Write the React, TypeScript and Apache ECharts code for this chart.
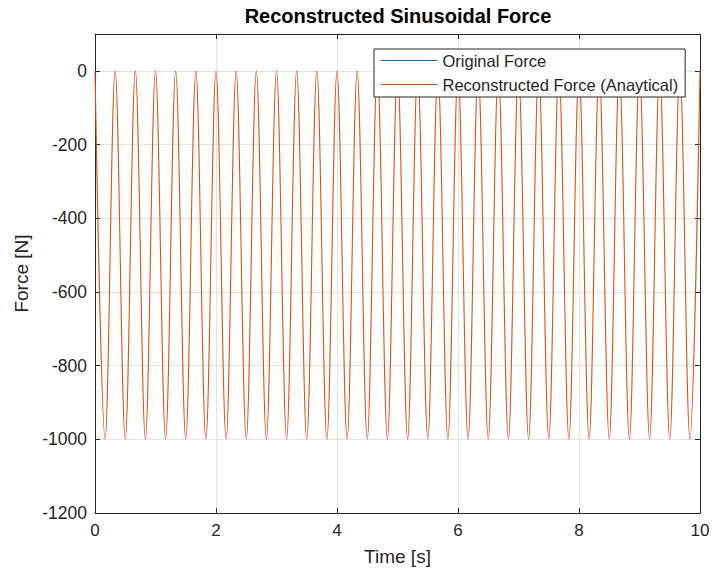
import React, { useEffect, useRef } from "react";
import * as echarts from "echarts";

// Time stamps of the read-off extremes (crests at 0 N, troughs at -1000 N)
const forceTime = [
  0, 0.167, 0.333, 0.5, 0.667, 0.833, 1, 1.167, 1.333, 1.5, 1.667, 1.833,
  2, 2.167, 2.333, 2.5, 2.667, 2.833, 3, 3.167, 3.333, 3.5, 3.667, 3.833,
  4, 4.167, 4.333, 4.5, 4.667, 4.833, 5, 5.167, 5.333, 5.5, 5.667, 5.833,
  6, 6.167, 6.333, 6.5, 6.667, 6.833, 7, 7.167, 7.333, 7.5, 7.667, 7.833,
  8, 8.167, 8.333, 8.5, 8.667, 8.833, 9, 9.167, 9.333, 9.5, 9.667, 9.833, 10,
];
const originalForce = [
  0, -1000, 0, -1000, 0, -1000, 0, -1000, 0, -1000, 0, -1000,
  0, -1000, 0, -1000, 0, -1000, 0, -1000, 0, -1000, 0, -1000,
  0, -1000, 0, -1000, 0, -1000, 0, -1000, 0, -1000, 0, -1000,
  0, -1000, 0, -1000, 0, -1000, 0, -1000, 0, -1000, 0, -1000,
  0, -1000, 0, -1000, 0, -1000, 0, -1000, 0, -1000, 0, -1000, 0,
];
const reconstructedForce = [
  0, -1000, 0, -1000, 0, -1000, 0, -1000, 0, -1000, 0, -1000,
  0, -1000, 0, -1000, 0, -1000, 0, -1000, 0, -1000, 0, -1000,
  0, -1000, 0, -1000, 0, -1000, 0, -1000, 0, -1000, 0, -1000,
  0, -1000, 0, -1000, 0, -1000, 0, -1000, 0, -1000, 0, -1000,
  0, -1000, 0, -1000, 0, -1000, 0, -1000, 0, -1000, 0, -1000, 0,
];
const seriesNames = ["Original Force", "Reconstructed Force (Anaytical)"];
const xTicks = { min: 0, max: 10, interval: 2 };
const yTicks = { min: -1200, max: 100, interval: 200 };

const FONT = "'Liberation Sans', Arial, Helvetica, sans-serif";
const AX = "#262626";
const BLUE = "#0072BD";
const ORANGE = "#D95319";

export default function App() {
  const ref = useRef<HTMLDivElement>(null);
  useEffect(() => {
    if (!ref.current) return;
    const chart = echarts.init(ref.current, undefined, { renderer: "svg" });
    const pair = (ys: number[]) => forceTime.map((t, i) => [t, ys[i]]);
    const axisCommon = {
      axisLine: { show: true, onZero: false, lineStyle: { color: AX, width: 1 } },
      axisTick: { show: true, inside: true, length: 5, lineStyle: { color: AX } },
    };
    chart.setOption({
      animation: false,
      backgroundColor: "#ffffff",
      textStyle: { fontFamily: FONT },
      title: {
        text: "Reconstructed Sinusoidal Force",
        left: 398,
        textAlign: "center",
        top: 6,
        padding: 0,
        textStyle: { fontFamily: FONT, fontSize: 20, fontWeight: "bold", color: "#000" },
      },
      grid: { left: 95, right: 13, top: 34, bottom: 59, containLabel: false },
      legend: {
        orient: "vertical",
        left: 374,
        top: 49,
        padding: [3, 7, 4, 6],
        itemGap: 7,
        itemWidth: 57,
        itemHeight: 14,
        itemStyle: { opacity: 0 },
        lineStyle: { width: 1 },
        backgroundColor: "#ffffff",
        borderColor: AX,
        borderWidth: 1,
        borderRadius: 0,
        data: [
          { name: seriesNames[0], lineStyle: { color: BLUE, opacity: 1, width: 1 } },
          { name: seriesNames[1], lineStyle: { color: ORANGE, opacity: 1, width: 1 } },
        ],
        textStyle: { fontFamily: FONT, fontSize: 16.5, color: AX },
      },
      xAxis: [
        {
          type: "value",
          ...xTicks,
          position: "bottom",
          ...axisCommon,
          name: "Time [s]",
          nameLocation: "middle",
          nameGap: 34,
          nameTextStyle: { fontFamily: FONT, fontSize: 19, color: AX },
          axisLabel: { fontFamily: FONT, fontSize: 17, color: AX, margin: 9 },
          splitLine: { show: true, lineStyle: { color: "#e3e3e3", width: 1 } },
        },
        {
          type: "value",
          ...xTicks,
          position: "top",
          ...axisCommon,
          axisLabel: { show: false },
          splitLine: { show: false },
        },
      ],
      yAxis: [
        {
          type: "value",
          ...yTicks,
          position: "left",
          ...axisCommon,
          name: "Force [N]",
          nameLocation: "middle",
          nameGap: 62,
          nameTextStyle: { fontFamily: FONT, fontSize: 19, color: AX },
          axisLabel: {
            fontFamily: FONT,
            fontSize: 17.5,
            color: AX,
            margin: 8,
            showMaxLabel: false,
            formatter: (v: number) => String(v),
          },
          splitLine: { show: true, lineStyle: { color: "#e3e3e3", width: 1 } },
        },
        {
          type: "value",
          ...yTicks,
          position: "right",
          ...axisCommon,
          axisLabel: { show: false },
          splitLine: { show: false },
        },
      ],
      series: [
        {
          // drawn first, fully hidden beneath the reconstructed curve (as in the reference)
          name: seriesNames[0],
          type: "line",
          data: pair(originalForce),
          smooth: 0.36,
          smoothMonotone: "x",
          symbol: "none",
          showSymbol: false,
          color: BLUE,
          lineStyle: { width: 1, color: BLUE, opacity: 0 },
        },
        {
          name: seriesNames[1],
          type: "line",
          data: pair(reconstructedForce),
          smooth: 0.36,
          smoothMonotone: "x",
          symbol: "none",
          showSymbol: false,
          color: ORANGE,
          lineStyle: { width: 1.1, color: ORANGE },
        },
      ],
    });
    return () => chart.dispose();
  }, []);
  return (
    <div
      ref={ref}
      style={{ position: "fixed", left: 0, top: 0, width: 713, height: 572 }}
    />
  );
}
